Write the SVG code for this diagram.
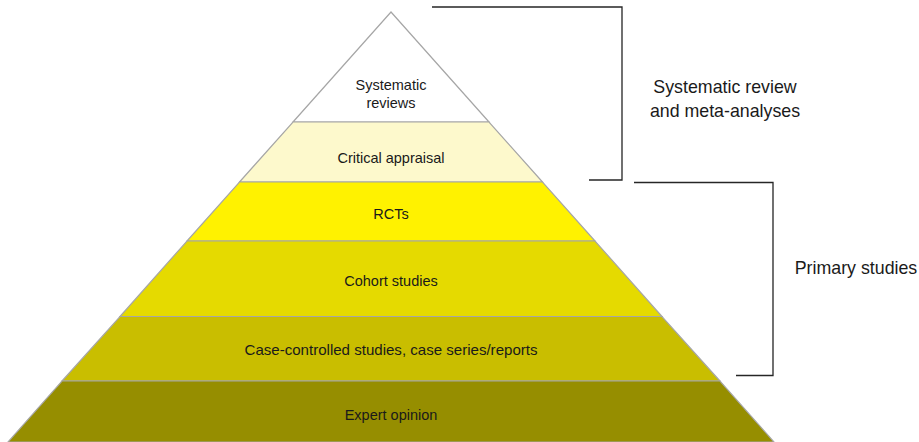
<svg xmlns="http://www.w3.org/2000/svg" width="919" height="442" viewBox="0 0 919 442">
  <style>
    .band { stroke: #a6a6a6; stroke-width: 1.2; stroke-linejoin: miter; }
    .lbl { font-family: "Liberation Sans", Arial, sans-serif; font-size: 14.5px; fill: #1a1a1a; text-anchor: middle; }
    .side { font-family: "Liberation Sans", Arial, sans-serif; font-size: 17.8px; fill: #1a1a1a; text-anchor: middle; }
    .brk { fill: none; stroke: #262626; stroke-width: 1.3; }
  </style>
  <rect width="919" height="442" fill="#ffffff"/>

  <!-- Pyramid tiers, apex at (391,12), edge slope ~0.89 -->
  <g id="tier-systematic-reviews">
    <polygon class="band" points="391,12 489,122 293,122" fill="#ffffff"/>
    <text class="lbl" x="391" y="90">Systematic</text>
    <text class="lbl" x="391" y="108">reviews</text>
  </g>
  <g id="tier-critical-appraisal">
    <polygon class="band" points="293,122 489,122 542.5,182 239.5,182" fill="#fdf9cc"/>
    <text class="lbl" x="391" y="163">Critical appraisal</text>
  </g>
  <g id="tier-rcts">
    <polygon class="band" points="239.5,182 542.5,182 595,241 187,241" fill="#fff200"/>
    <text class="lbl" x="391" y="219">RCTs</text>
  </g>
  <g id="tier-cohort">
    <polygon class="band" points="187,241 595,241 662,316.5 120,316.5" fill="#e5da00"/>
    <text class="lbl" x="391" y="286">Cohort studies</text>
  </g>
  <g id="tier-case">
    <polygon class="band" points="120,316.5 662,316.5 720,381 62,381" fill="#c9be00"/>
    <text class="lbl" x="391" y="355" textLength="293" lengthAdjust="spacingAndGlyphs">Case-controlled studies, case series/reports</text>
  </g>
  <g id="tier-expert">
    <polygon class="band" points="62,381 720,381 774,442 8,442" fill="#968e00"/>
    <text class="lbl" x="391" y="420">Expert opinion</text>
  </g>

  <!-- Brackets grouping the tiers -->
  <g id="connectors">
    <polyline class="brk" points="432,7 622,7 622,180 589,180"/>
    <polyline class="brk" points="634,182.5 773,182.5 773,375.5 736,375.5"/>
  </g>

  <g id="label-secondary">
    <text class="side" x="725" y="93">Systematic review</text>
    <text class="side" x="725" y="117">and meta-analyses</text>
  </g>
  <g id="label-primary">
    <text class="side" x="856" y="274">Primary studies</text>
  </g>
</svg>
